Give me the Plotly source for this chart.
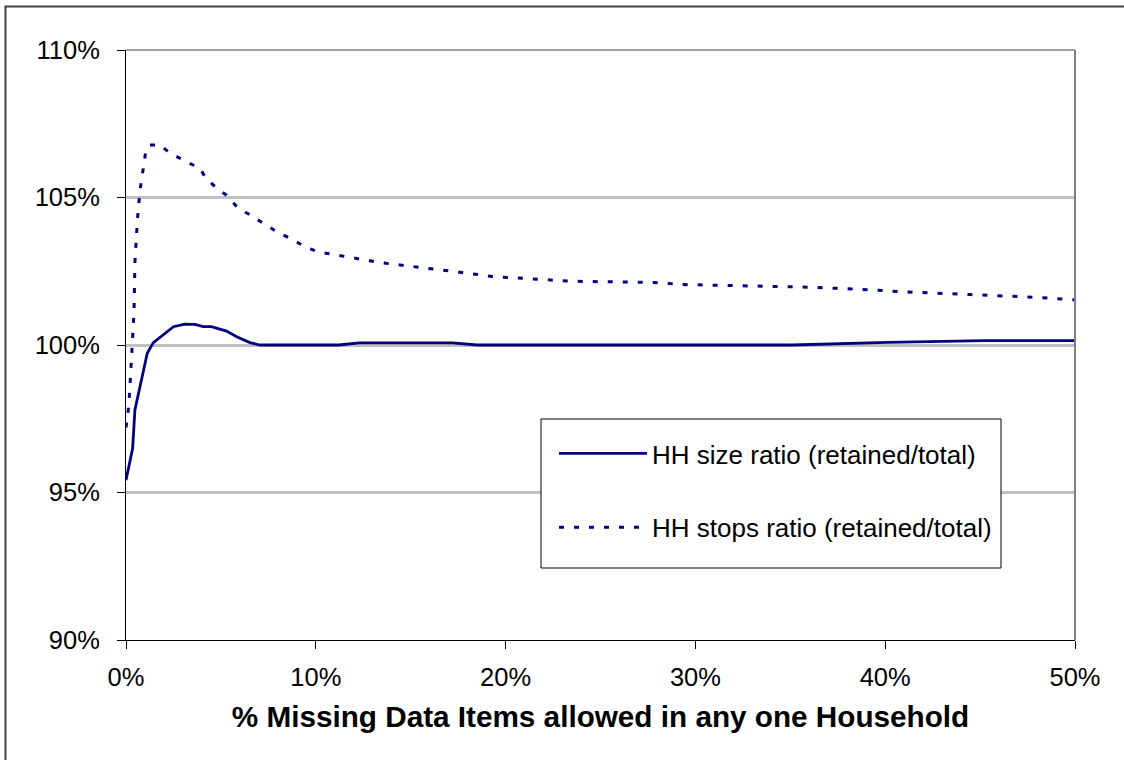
import plotly.graph_objects as go

# ---- data (percent) ----
size_x = [0, 0.35, 0.47, 0.88, 1.12, 1.44, 1.97, 2.5, 3.1, 3.63, 4.07, 4.5, 5.3, 5.83,
          6.53, 7.06, 11.2, 12.3, 17.2, 18.5, 35.1, 40.1, 45.2, 50]
size_y = [95.42, 96.5, 97.8, 99.05, 99.72, 100.08, 100.34, 100.62, 100.71, 100.70, 100.62,
          100.62, 100.47, 100.28, 100.08, 100.0, 100.0, 100.07, 100.07, 100.0, 100.0, 100.09,
          100.15, 100.15]

stops_x = [0, 0.12, 0.19, 0.25, 0.35, 0.42, 0.47, 0.6, 0.74, 0.91, 1.05, 1.26, 1.79, 2.23,
           3.0, 3.9, 4.16, 4.78, 5.3, 5.83, 6.7, 7.94, 8.8, 9.5, 10.1, 11.1, 12.07, 12.9,
           13.7, 14.9, 16.2, 17.2, 18.3, 19.3, 21.4, 23.5, 27.8, 29.3, 33.0, 36.0, 38.6,
           41.1, 44.5, 47.8, 50]
stops_y = [97.2, 97.8, 98.4, 99.05, 100.1, 101.08, 102.8, 104.24, 105.25, 106.04, 106.6,
           106.78, 106.78, 106.55, 106.27, 105.99, 105.7, 105.31, 105.08, 104.69, 104.35,
           103.84, 103.56, 103.31, 103.16, 103.04, 102.94, 102.85, 102.77, 102.68, 102.59,
           102.5, 102.41, 102.32, 102.25, 102.16, 102.12, 102.05, 102.0, 101.96, 101.89,
           101.8, 101.71, 101.62, 101.53]

x_ticks = [0, 10, 20, 30, 40, 50]
x_tick_text = ["0%", "10%", "20%", "30%", "40%", "50%"]
y_ticks = [90, 95, 100, 105, 110]
y_tick_text = ["90%", "95%", "100%", "105%", "110%"]

series_names = ["HH size ratio (retained/total)", "HH stops ratio (retained/total)"]
x_title = "% Missing Data Items allowed in any one Household"

FONT = "Arial, Liberation Sans, sans-serif"
NAVY = "#000080"

fig = go.Figure()
fig.add_trace(go.Scatter(x=size_x, y=size_y, mode="lines", name=series_names[0],
                         legendgroup="a", hoverinfo="skip",
                         line=dict(color=NAVY, width=2.8)))
fig.add_trace(go.Scatter(x=stops_x, y=stops_y, mode="lines", name=series_names[1],
                         legendgroup="b", hoverinfo="skip",
                         line=dict(color=NAVY, width=3, dash="5px,10px")))

W, H = 1124, 760
L, R, T, B = 126, 49, 50, 120
pw, ph = W - L - R, H - T - B


def px(xp):
    return (xp - L) / pw


def py(yp):
    return (H - B - yp) / ph


fig.update_layout(
    width=W, height=H,
    margin=dict(l=L, r=R, t=T, b=B, autoexpand=False),
    paper_bgcolor="white", plot_bgcolor="white",
    font=dict(family=FONT, size=26, color="black"),
    showlegend=True,
    legend=dict(
        x=px(554), y=py(430), xanchor="left", yanchor="top",
        bgcolor="rgba(0,0,0,0)", borderwidth=0,
        font=dict(family=FONT, size=26, color="black"),
        itemwidth=88, tracegroupgap=37, traceorder="grouped",
    ),
    xaxis=dict(
        range=[0, 50], tickvals=x_ticks, ticktext=x_tick_text,
        showgrid=False, zeroline=False,
        showline=True, linecolor="black", linewidth=1,
        ticks="outside", ticklen=8, tickcolor="black", tickwidth=1,
        tickfont=dict(family=FONT, size=25.5, color="black"),
        ticklabelstandoff=6,
        title=dict(text="<b>" + x_title + "</b>", standoff=16,
                   font=dict(family=FONT, size=29.7, color="black")),
        automargin=False,
    ),
    yaxis=dict(
        range=[90, 110], tickvals=y_ticks, ticktext=y_tick_text,
        showgrid=True, gridcolor="#C0C0C0", gridwidth=3, zeroline=False,
        showline=True, linecolor="black", linewidth=1,
        ticks="outside", ticklen=8, tickcolor="black", tickwidth=1,
        tickfont=dict(family=FONT, size=25.5, color="black"),
        ticklabelstandoff=12,
        automargin=False,
    ),
    shapes=[
        # plot-area border (top/right gray)
        dict(type="line", xref="paper", yref="paper", x0=0, x1=1, y0=1, y1=1,
             line=dict(color="#808080", width=1.5), layer="above"),
        dict(type="line", xref="paper", yref="paper", x0=1, x1=1, y0=0, y1=1,
             line=dict(color="#808080", width=2), layer="above"),
        # legend box
        dict(type="rect", xref="paper", yref="paper",
             x0=px(541), x1=px(1001), y0=py(568), y1=py(419),
             line=dict(color="black", width=1), fillcolor="white", layer="above"),
        # outer chart frame
        dict(type="rect", xref="paper", yref="paper",
             x0=px(5.5), x1=px(1135), y0=py(775), y1=py(6.5),
             line=dict(color="#404040", width=2), fillcolor="rgba(0,0,0,0)"),
    ],
)

fig.write_html("out.html", config={"displayModeBar": False},
               post_script="document.body.style.margin='0';")
